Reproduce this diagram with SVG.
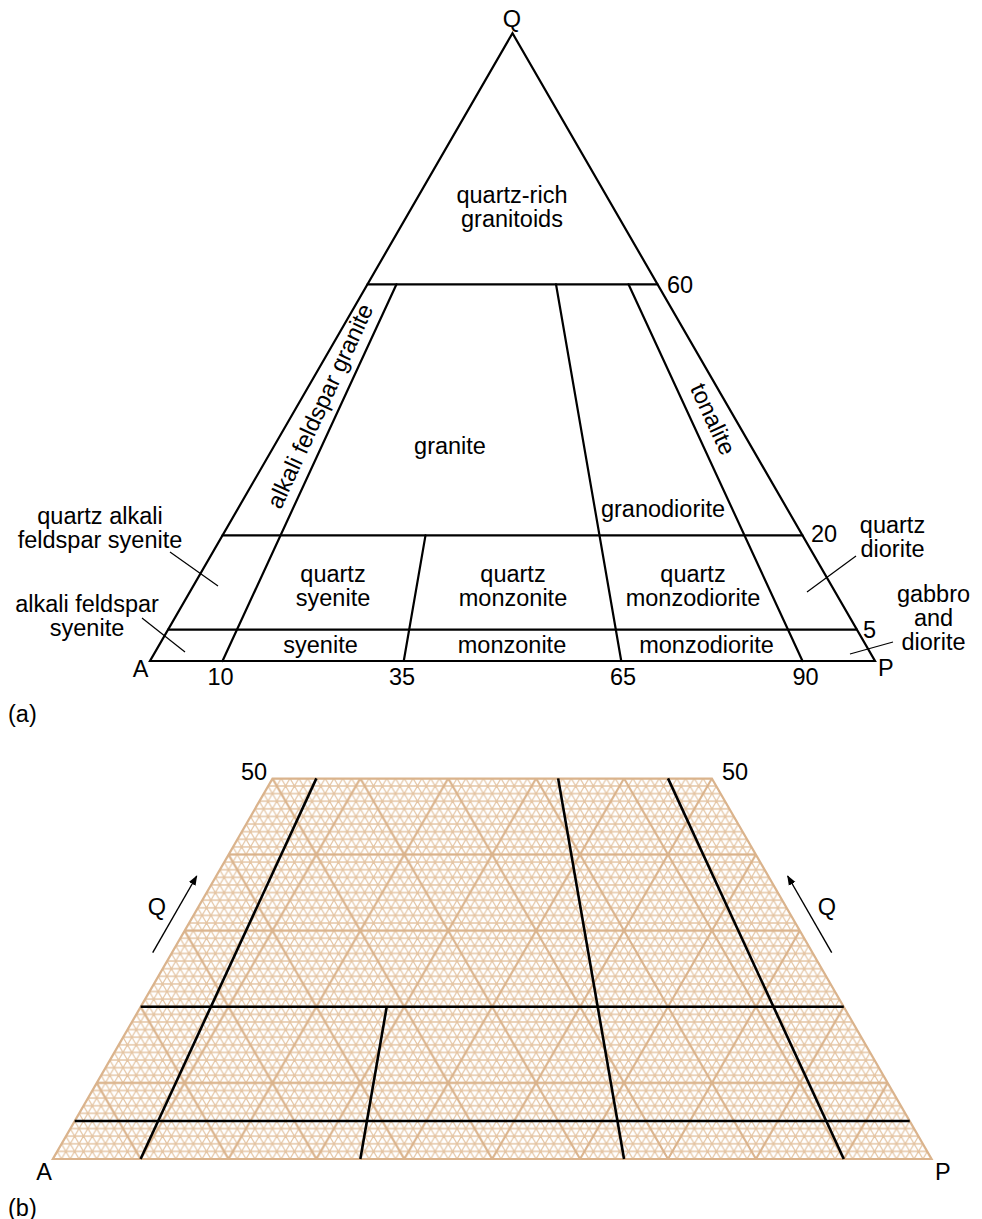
<svg xmlns="http://www.w3.org/2000/svg" width="982" height="1219" viewBox="0 0 982 1219">
<style>
text{font-family:"Liberation Sans",Arial,Helvetica,sans-serif;font-size:23.5px;fill:#000}
.c{text-anchor:middle}
.ln{stroke:#000;stroke-width:2.2;fill:none;stroke-linecap:round}
.ld{stroke:#000;stroke-width:1.2;fill:none}
.bl{stroke:#000;stroke-width:2.6;fill:none}
.fg{stroke:#e4c4a2;stroke-width:1.2;fill:none}
.tg{stroke:#dab38c;stroke-width:2;fill:none}
</style>
<defs>
<pattern id="fine" patternUnits="userSpaceOnUse" x="52.7" y="1159" width="8.79" height="15.2248">
<path class="fg" d="M-1,0H9.79M-1,7.6124H9.79M-1,15.2248H9.79M-0.879,-1.5225L9.669,16.7473M9.669,-1.5225L-0.879,16.7473M-0.879,1.5225L0.879,-1.5225M7.911,16.7473L9.669,13.7023M-0.879,13.7023L0.879,16.7473M7.911,-1.5225L9.669,1.5225"/>
</pattern>
<pattern id="thick" patternUnits="userSpaceOnUse" x="52.7" y="1159" width="87.9" height="152.248">
<path class="tg" d="M-2,0H89.9M-2,76.124H89.9M-2,152.248H89.9M-2,-3.464L89.9,155.712M89.9,-3.464L-2,155.712M-2,3.464L2,-3.464M85.9,155.712L89.9,148.784M-2,148.784L2,155.712M85.9,-3.464L89.9,3.464"/>
</pattern>
<marker id="ah" viewBox="0 0 10 10" refX="9" refY="5" markerWidth="10" markerHeight="10" markerUnits="userSpaceOnUse" orient="auto">
<path d="M0,1.2L10,5L0,8.8Z" fill="#000"/>
</marker>
</defs>

<g id="diagram-a">
<g id="triangle-a">
<polygon class="ln" points="150,661 875,661 512.5,33.1" stroke-linejoin="miter"/>
</g>
<g id="connectors-a">
<line class="ln" x1="367.5" y1="284.3" x2="657.5" y2="284.3"/>
<line class="ln" x1="222.5" y1="535.4" x2="802.5" y2="535.4"/>
<line class="ln" x1="168.1" y1="629.6" x2="856.9" y2="629.6"/>
<line class="ln" x1="222.5" y1="661" x2="396.5" y2="284.3"/>
<line class="ln" x1="403.75" y1="661" x2="425.5" y2="535.4"/>
<line class="ln" x1="621.25" y1="661" x2="556" y2="284.3"/>
<line class="ln" x1="802.5" y1="661" x2="628.5" y2="284.3"/>
<line class="ld" x1="170" y1="552" x2="218" y2="586"/>
<line class="ld" x1="142" y1="618" x2="185" y2="652"/>
<line class="ld" x1="856" y1="556" x2="807" y2="592"/>
<line class="ld" x1="850" y1="654" x2="893" y2="642"/>
</g>
<g id="labels-a">
<text class="c" x="512" y="26.5">Q</text>
<text class="c" x="140.5" y="677">A</text>
<text x="878" y="676">P</text>
<text class="c" x="220.5" y="685">10</text>
<text class="c" x="402" y="685">35</text>
<text class="c" x="623" y="685">65</text>
<text class="c" x="805.5" y="685">90</text>
<text x="667" y="293">60</text>
<text x="811" y="541.5">20</text>
<text x="863" y="638">5</text>
<text x="8" y="722">(a)</text>
</g>
<g id="field-quartz-rich"><text class="c" x="512" y="203">quartz-rich</text><text class="c" x="512" y="227">granitoids</text></g>
<g id="field-alkali-feldspar-granite"><text class="c" transform="translate(320,406) rotate(-65.2)" x="0" y="8">alkali feldspar granite</text></g>
<g id="field-granite"><text class="c" x="450" y="454">granite</text></g>
<g id="field-granodiorite"><text class="c" x="663" y="517">granodiorite</text></g>
<g id="field-tonalite"><text class="c" transform="translate(713,419) rotate(65.2)" x="0" y="8">tonalite</text></g>
<g id="field-qafs"><text class="c" x="100" y="524">quartz alkali</text><text class="c" x="100" y="548">feldspar syenite</text></g>
<g id="field-afs"><text class="c" x="87" y="612">alkali feldspar</text><text class="c" x="87" y="636">syenite</text></g>
<g id="field-quartz-syenite"><text class="c" x="333" y="582">quartz</text><text class="c" x="333" y="606">syenite</text></g>
<g id="field-quartz-monzonite"><text class="c" x="513" y="582">quartz</text><text class="c" x="513" y="606">monzonite</text></g>
<g id="field-quartz-monzodiorite"><text class="c" x="693" y="582">quartz</text><text class="c" x="693" y="606">monzodiorite</text></g>
<g id="field-quartz-diorite"><text class="c" x="892.5" y="533">quartz</text><text class="c" x="892.5" y="557">diorite</text></g>
<g id="field-gabbro"><text class="c" x="933.5" y="602">gabbro</text><text class="c" x="933.5" y="626">and</text><text class="c" x="933.5" y="650">diorite</text></g>
<g id="field-syenite"><text class="c" x="320.5" y="653">syenite</text></g>
<g id="field-monzonite"><text class="c" x="512" y="653">monzonite</text></g>
<g id="field-monzodiorite"><text class="c" x="706.5" y="653">monzodiorite</text></g>
</g>

<g id="diagram-b">
<g id="grid-b">
<polygon points="52.7,1159 931.7,1159 711.95,778.4 272.45,778.4" fill="url(#fine)"/>
<polygon points="52.7,1159 931.7,1159 711.95,778.4 272.45,778.4" fill="url(#thick)"/>
<polygon points="52.7,1159 931.7,1159 711.95,778.4 272.45,778.4" fill="none" stroke="#dab38c" stroke-width="2"/>
</g>
<g id="connectors-b">
<line class="bl" x1="140.6" y1="1006.76" x2="843.8" y2="1006.76"/>
<line class="bl" x1="74.68" y1="1120.94" x2="909.72" y2="1120.94"/>
<line class="bl" x1="140.6" y1="1159" x2="316.4" y2="778.4"/>
<line class="bl" x1="360.35" y1="1159" x2="386.72" y2="1006.76"/>
<line class="bl" x1="624.05" y1="1159" x2="558.13" y2="778.4"/>
<line class="bl" x1="843.8" y1="1159" x2="668" y2="778.4"/>
<line stroke="#000" stroke-width="1.4" x1="152.7" y1="952.7" x2="196.7" y2="876" marker-end="url(#ah)"/>
<line stroke="#000" stroke-width="1.4" x1="831.7" y1="952.7" x2="787.7" y2="876" marker-end="url(#ah)"/>
</g>
<g id="labels-b">
<text class="c" x="254" y="780">50</text>
<text class="c" x="735" y="780">50</text>
<text class="c" x="157" y="915">Q</text>
<text class="c" x="827" y="915">Q</text>
<text class="c" x="44" y="1180">A</text>
<text x="935" y="1180">P</text>
<text x="8" y="1216">(b)</text>
</g>
</g>
</svg>
